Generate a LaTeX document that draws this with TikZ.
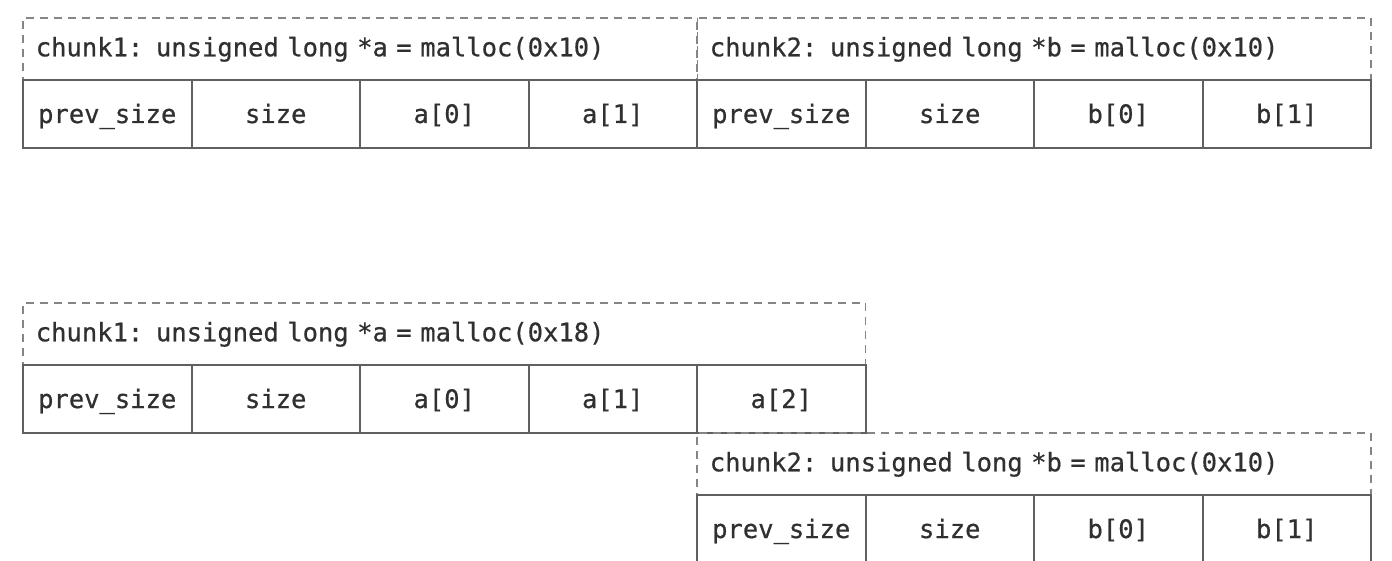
\documentclass[tikz,border=0pt]{standalone}
\usepackage{fontspec}
\newfontfamily\codefont[UprightFeatures={FakeBold=0.6}]{DejaVu Sans Mono}
\definecolor{linec}{HTML}{606060}
\definecolor{dashc}{HTML}{858585}
\definecolor{txt}{HTML}{303030}
\begin{document}
\begin{tikzpicture}[x=1pt,y=-1pt,
  cell/.style={draw=linec, line width=2pt, minimum width=168.5pt, minimum height=68pt,
    inner sep=0pt, anchor=north west, text=txt, text height=24pt, text depth=6pt,
    font=\codefont\fontsize{25.5}{28}\selectfont},
  chunkbox/.style={draw=dashc, line width=1.6pt, dash pattern=on 8pt off 6pt,
    minimum height=62pt, inner xsep=13pt, inner ysep=0pt, align=left, anchor=north west,
    text=txt, text height=21pt, text depth=6pt,
    font=\codefont\fontsize{25.5}{28}\selectfont}]
\useasboundingbox (0,0) rectangle (1392,561);
\fill[white] (0,0) rectangle (1392,561);
\clip (0,0) rectangle (1392,561);

% ---- top: two chunks of 0x10 ----
\node[chunkbox, text width=648.5pt] (t1) at (22,17) {chunk1: unsigned long *a = malloc(0x10)};
\node[chunkbox, text width=648pt] (t2) at (696,17) {chunk2: unsigned long *b = malloc(0x10)};
\node[cell] (t1p) at (22,79) {prev\_size};
\node[cell] (t1s) at (190.5,79) {size};
\node[cell] (t1a0) at (359,79) {a[0]};
\node[cell] (t1a1) at (527.5,79) {a[1]};
\node[cell] (t2p) at (696,79) {prev\_size};
\node[cell] (t2s) at (864.5,79) {size};
\node[cell] (t2b0) at (1033,79) {b[0]};
\node[cell] (t2b1) at (1201.5,79) {b[1]};

% ---- bottom: chunk1 of 0x18 overlapping chunk2 ----
\node[chunkbox, text width=816.5pt] (b1) at (22,302) {chunk1: unsigned long *a = malloc(0x18)};
\node[cell] (b1p) at (22,364) {prev\_size};
\node[cell] (b1s) at (190.5,364) {size};
\node[cell] (b1a0) at (359,364) {a[0]};
\node[cell] (b1a1) at (527.5,364) {a[1]};
\node[cell] (b1a2) at (696,364) {a[2]};

\node[chunkbox, text width=648pt] (b2) at (696,432) {chunk2: unsigned long *b = malloc(0x10)};
\node[cell] (b2p) at (696,494) {prev\_size};
\node[cell] (b2s) at (864.5,494) {size};
\node[cell] (b2b0) at (1033,494) {b[0]};
\node[cell] (b2b1) at (1201.5,494) {b[1]};
\end{tikzpicture}
\end{document}
